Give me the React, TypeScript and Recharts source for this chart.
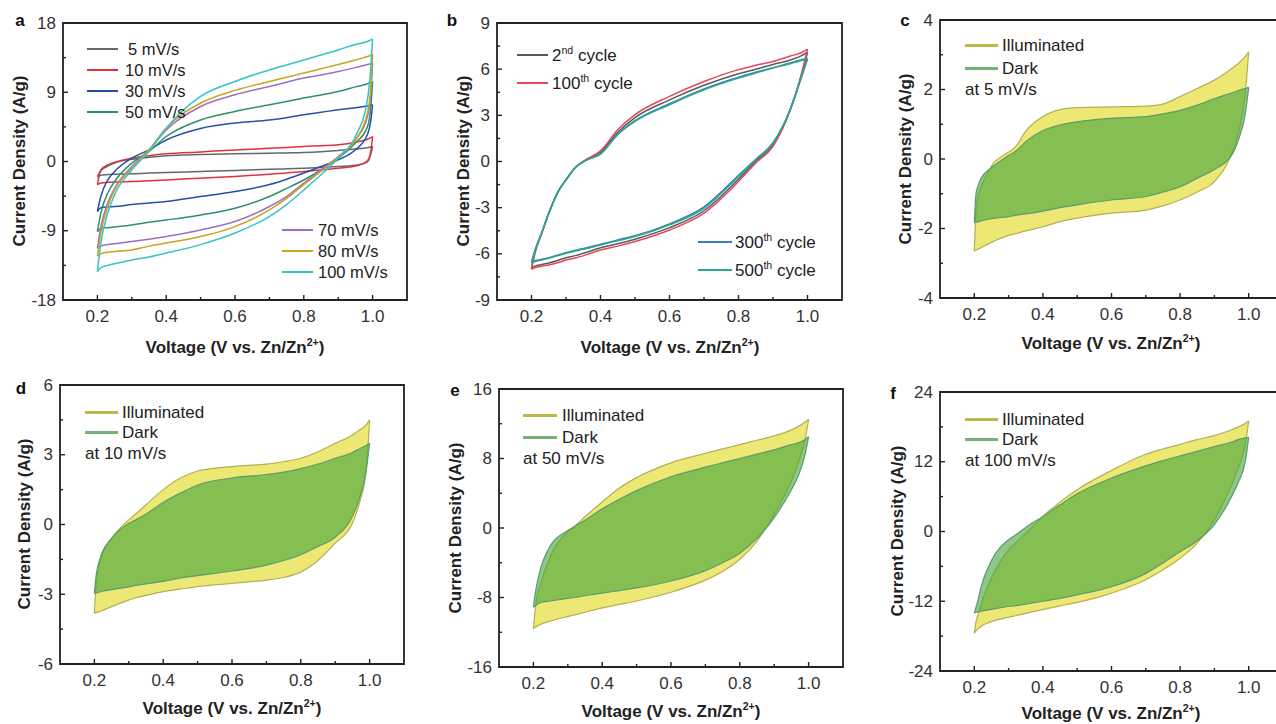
import React from 'react'
import { Area, ComposedChart, ReferenceArea, XAxis, YAxis } from 'recharts'

const FONT = '"Liberation Sans", Arial, Helvetica, sans-serif'
const INK = '#222'

// x axis (shared by all panels)
const xTicks = [0.2, 0.3, 0.4, 0.5, 0.6, 0.7, 0.8, 0.9, 1.0]
const xMajor = [0.2, 0.4, 0.6, 0.8, 1.0]

// panel a: CV at different scan rates (up = anodic, lo = cathodic branch)
const voltA = [0.2, 0.21, 0.23, 0.25, 0.3, 0.35, 0.4, 0.5, 0.6, 0.7, 0.75, 0.8, 0.85, 0.9, 0.95, 0.985, 0.995, 1.0]
const up5 = [-1.95, -1.2, -0.6, -0.2, 0.3, 0.55, 0.74, 0.9, 1.0, 1.08, 1.12, 1.17, 1.28, 1.43, 1.62, 1.8, 1.88, 1.95]
const lo5 = [-1.95, -1.8, -1.7, -1.65, -1.6, -1.5, -1.43, -1.3, -1.17, -1.02, -0.95, -0.87, -0.77, -0.65, -0.5, -0.05, 1.0, 1.95]
const up10 = [-3.0, -1.1, -0.45, -0.1, 0.43, 0.75, 1.0, 1.25, 1.5, 1.72, 1.83, 1.95, 2.05, 2.17, 2.5, 2.9, 3.1, 3.25]
const lo10 = [-3.0, -2.8, -2.7, -2.65, -2.6, -2.5, -2.4, -2.17, -1.95, -1.65, -1.5, -1.3, -1.1, -0.87, -0.6, 0.1, 1.4, 3.25]
const up30 = [-6.5, -4.55, -2.4, -1.3, 0.43, 1.52, 2.8, 4.3, 5.0, 5.4, 5.7, 6.07, 6.4, 6.72, 7.0, 7.2, 7.3, 7.37]
const lo30 = [-6.5, -6.0, -5.9, -5.85, -5.6, -5.4, -5.2, -4.55, -3.9, -3.0, -2.3, -1.5, -0.65, 0.22, 1.52, 3.5, 5.4, 7.37]
const up50 = [-9.1, -6.7, -4.1, -2.6, -0.2, 1.3, 3.25, 5.4, 6.5, 7.37, 7.8, 8.24, 8.65, 9.1, 9.7, 10.1, 10.3, 10.4]
const lo50 = [-9.1, -8.7, -8.6, -8.5, -8.24, -7.9, -7.6, -6.94, -6.07, -4.55, -3.5, -2.4, -1.1, 0.43, 2.4, 4.5, 7.2, 10.4]
const up70 = [-11.3, -8.5, -5.4, -3.5, -0.65, 1.52, 4.1, 7.15, 8.67, 9.76, 10.3, 10.84, 11.25, 11.7, 12.2, 12.6, 12.7, 12.8]
const lo70 = [-11.3, -11.0, -10.8, -10.7, -10.4, -10.1, -9.76, -8.9, -7.8, -5.85, -4.55, -2.8, -1.1, 0.65, 2.8, 5.85, 8.9, 12.8]
const up80 = [-12.3, -9.3, -5.85, -3.7, -0.87, 1.52, 4.34, 7.6, 9.24, 10.4, 10.95, 11.5, 12.05, 12.6, 13.2, 13.65, 13.8, 13.9]
const lo80 = [-12.3, -12.0, -11.8, -11.7, -11.5, -11.0, -10.6, -9.76, -8.46, -6.3, -4.8, -3.0, -1.3, 0.56, 2.8, 6.3, 9.76, 13.9]
const up100 = [-14.3, -10.6, -6.7, -4.3, -1.1, 1.3, 4.34, 8.46, 10.4, 11.9, 12.55, 13.2, 13.85, 14.5, 15.2, 15.6, 15.8, 15.9]
const lo100 = [-14.3, -13.8, -13.5, -13.3, -12.8, -12.4, -11.9, -10.8, -9.3, -7.15, -5.6, -3.7, -1.73, 0.43, 3.25, 8.0, 12.4, 15.9]
const rateLabels = ['5 mV/s', '10 mV/s', '30 mV/s', '50 mV/s', '70 mV/s', '80 mV/s', '100 mV/s']
const rateColors = ['#5f6b6b', '#e0323c', '#2451a4', '#2e8f6e', '#9b6fc4', '#caa41c', '#33c4c8']

// panel b: cycling
const voltB = [0.2, 0.21, 0.23, 0.25, 0.28, 0.3, 0.33, 0.36, 0.4, 0.45, 0.5, 0.6, 0.7, 0.8, 0.85, 0.9, 0.95, 0.98, 1.0]
const up2nd = [-6.9, -5.9, -4.63, -3.36, -1.84, -1.19, -0.33, 0.12, 0.6, 1.9, 2.85, 4.0, 4.95, 5.7, 6.0, 6.3, 6.6, 6.85, 7.1]
const lo2nd = [-6.9, -6.8, -6.7, -6.6, -6.4, -6.25, -6.1, -5.9, -5.6, -5.35, -5.05, -4.3, -3.2, -1.15, 0.0, 1.08, 3.36, 5.4, 7.1]
const up100th = [-7.0, -5.97, -4.66, -3.36, -1.84, -1.19, -0.33, 0.15, 0.7, 2.06, 3.04, 4.23, 5.2, 5.97, 6.25, 6.5, 6.85, 7.05, 7.3]
const lo100th = [-7.0, -6.9, -6.8, -6.72, -6.55, -6.4, -6.25, -6.05, -5.75, -5.5, -5.2, -4.45, -3.36, -1.3, -0.1, 0.98, 3.36, 5.5, 7.3]
const up300th = [-6.55, -5.78, -4.6, -3.36, -1.84, -1.19, -0.33, 0.1, 0.5, 1.78, 2.65, 3.75, 4.72, 5.48, 5.8, 6.1, 6.4, 6.6, 6.7]
const lo300th = [-6.55, -6.45, -6.35, -6.25, -6.05, -5.92, -5.75, -5.6, -5.38, -5.1, -4.82, -4.05, -2.95, -0.9, 0.15, 1.22, 3.4, 5.35, 6.7]
const up500th = [-6.6, -5.8, -4.6, -3.36, -1.84, -1.19, -0.33, 0.1, 0.48, 1.74, 2.6, 3.69, 4.66, 5.42, 5.75, 6.07, 6.35, 6.55, 6.66]
const lo500th = [-6.6, -6.5, -6.4, -6.29, -6.1, -5.97, -5.8, -5.65, -5.42, -5.15, -4.88, -4.12, -3.04, -0.98, 0.1, 1.19, 3.36, 5.3, 6.66]
const cycleNums = ['2', '100', '300', '500']
const cycleSups = ['nd', 'th', 'th', 'th']
const cycleColors = ['#5a5a5a', '#e5475a', '#3b7fc0', '#2aa88c']

// panels c-f: illuminated vs dark
const voltCV = [0.2, 0.205, 0.21, 0.22, 0.25, 0.3, 0.32, 0.35, 0.4, 0.45, 0.5, 0.6, 0.7, 0.75, 0.8, 0.85, 0.9, 0.95, 0.97, 0.99, 1.0]
const cIllumUp = [-2.65, -1.5, -1.1, -0.8, -0.2, 0.2, 0.35, 0.8, 1.22, 1.42, 1.48, 1.5, 1.52, 1.58, 1.8, 2.03, 2.27, 2.6, 2.75, 2.95, 3.08]
const cIllumLo = [-2.65, -2.62, -2.6, -2.55, -2.4, -2.2, -2.15, -2.07, -1.95, -1.8, -1.7, -1.56, -1.47, -1.35, -1.18, -0.95, -0.65, 0.15, 0.74, 1.9, 3.08]
const cDarkUp = [-1.83, -1.0, -0.8, -0.55, -0.25, 0.1, 0.22, 0.5, 0.82, 0.98, 1.07, 1.17, 1.22, 1.3, 1.4, 1.55, 1.74, 1.9, 1.97, 2.03, 2.06]
const cDarkLo = [-1.83, -1.82, -1.81, -1.78, -1.72, -1.66, -1.62, -1.58, -1.5, -1.4, -1.32, -1.18, -1.08, -0.95, -0.8, -0.55, -0.3, 0.1, 0.55, 1.3, 2.06]
const dIllumUp = [-3.82, -2.6, -2.0, -1.4, -0.6, 0.2, 0.45, 0.85, 1.5, 2.0, 2.3, 2.49, 2.6, 2.7, 2.85, 3.13, 3.49, 3.85, 4.06, 4.28, 4.5]
const dIllumLo = [-3.82, -3.79, -3.77, -3.72, -3.53, -3.25, -3.15, -3.05, -2.89, -2.78, -2.67, -2.53, -2.39, -2.28, -2.05, -1.55, -0.8, 0.05, 0.9, 2.34, 4.5]
const dDarkUp = [-2.96, -2.2, -1.8, -1.3, -0.6, 0.05, 0.2, 0.45, 0.95, 1.35, 1.7, 2.0, 2.15, 2.25, 2.4, 2.6, 2.85, 3.1, 3.25, 3.4, 3.5]
const dDarkLo = [-2.96, -2.95, -2.93, -2.88, -2.8, -2.68, -2.62, -2.55, -2.45, -2.3, -2.2, -2.0, -1.75, -1.55, -1.3, -0.95, -0.55, 0.35, 1.1, 2.3, 3.5]
const eIllumUp = [-11.6, -9.5, -8.0, -6.5, -3.2, -0.4, 0.2, 1.3, 3.0, 4.6, 5.8, 7.5, 8.6, 9.1, 9.6, 10.1, 10.6, 11.3, 11.7, 12.2, 12.5]
const eIllumLo = [-11.6, -11.45, -11.3, -11.1, -10.7, -10.2, -10.0, -9.7, -9.2, -8.8, -8.4, -7.4, -6.0, -5.0, -3.6, -1.5, 1.6, 5.4, 7.5, 10.2, 12.5]
const eDarkUp = [-9.1, -7.6, -6.5, -4.8, -2.0, -0.3, 0.2, 0.9, 2.2, 3.3, 4.3, 5.9, 7.0, 7.5, 8.0, 8.5, 9.0, 9.6, 9.8, 10.2, 10.5]
const eDarkLo = [-9.1, -9.0, -8.8, -8.6, -8.4, -8.1, -8.0, -7.8, -7.5, -7.2, -6.9, -6.1, -4.9, -4.0, -2.9, -1.2, 1.2, 4.4, 6.0, 8.5, 10.5]
const fIllumUp = [-17.5, -15.5, -14.5, -12.5, -8.0, -3.2, -2.0, -0.3, 2.6, 5.1, 7.2, 10.5, 13.3, 14.2, 15.0, 15.8, 16.5, 17.5, 18.0, 18.6, 19.0]
const fIllumLo = [-17.5, -17.1, -16.8, -16.3, -15.5, -14.75, -14.5, -14.1, -13.4, -12.8, -12.2, -10.6, -8.3, -6.6, -4.6, -2.0, 2.0, 8.0, 11.0, 15.0, 19.0]
const fDarkUp = [-14.0, -13.0, -12.0, -9.5, -5.0, -1.4, -0.6, 0.7, 2.6, 4.6, 6.5, 9.2, 11.3, 12.2, 13.0, 13.8, 14.6, 15.4, 15.8, 16.1, 16.2]
const fDarkLo = [-14.0, -13.9, -13.85, -13.7, -13.4, -12.9, -12.75, -12.5, -12.0, -11.5, -10.9, -9.5, -7.2, -5.4, -3.5, -1.6, 1.2, 6.0, 8.5, 12.0, 16.2]
const lightLabels = ['Illuminated', 'Dark']

// y ticks per panel
const aYMajor = [-18, -9, 0, 9, 18]
const aYMinor = [-13.5, -4.5, 4.5, 13.5]
const bYMajor = [-9, -6, -3, 0, 3, 6, 9]
const bYMinor = [-7.5, -4.5, -1.5, 1.5, 4.5, 7.5]
const cYMajor = [-4, -2, 0, 2, 4]
const cYMinor = [-3, -1, 1, 3]
const dYMajor = [-6, -3, 0, 3, 6]
const dYMinor = [-4.5, -1.5, 1.5, 4.5]
const eYMajor = [-16, -8, 0, 8, 16]
const eYMinor = [-12, -4, 4, 12]
const fYMajor = [-24, -12, 0, 12, 24]
const fYMinor = [-18, -6, 6, 18]

type Row = Record<string, number | number[]>

const buildRows = (volt: number[], series: Record<string, [number[], number[]]>) =>
  volt.map((v, i) => {
    const row: Row = { v }
    Object.entries(series).forEach(([k, [lo, up]]) => {
      row[k] = [lo[i], up[i]]
    })
    return row
  })

const rowsA = buildRows(voltA, {
  s0: [lo5, up5], s1: [lo10, up10], s2: [lo30, up30], s3: [lo50, up50],
  s4: [lo70, up70], s5: [lo80, up80], s6: [lo100, up100],
})
const rowsB = buildRows(voltB, {
  s0: [lo2nd, up2nd], s1: [lo100th, up100th], s2: [lo300th, up300th], s3: [lo500th, up500th],
})
const rowsC = buildRows(voltCV, { illum: [cIllumLo, cIllumUp], dark: [cDarkLo, cDarkUp] })
const rowsD = buildRows(voltCV, { illum: [dIllumLo, dIllumUp], dark: [dDarkLo, dDarkUp] })
const rowsE = buildRows(voltCV, { illum: [eIllumLo, eIllumUp], dark: [eDarkLo, eDarkUp] })
const rowsF = buildRows(voltCV, { illum: [fIllumLo, fIllumUp], dark: [fDarkLo, fDarkUp] })

type Band = { key: string; stroke: string; fill: string; fillOpacity: number; width: number }

const lineBands = (colors: string[]): Band[] =>
  colors.map((c, i) => ({ key: `s${i}`, stroke: c, fill: 'none', fillOpacity: 0, width: 1.5 }))

const lightBands: Band[] = [
  { key: 'illum', stroke: '#b5af55', fill: '#ede874', fillOpacity: 1, width: 1.2 },
  { key: 'dark', stroke: '#5c9c6c', fill: '#46a63c', fillOpacity: 0.62, width: 1.2 },
]

const near = (list: number[], v: number) => list.some((m) => Math.abs(m - v) < 1e-6)

const XTick = (props: any) => {
  const { x, y, payload } = props
  const major = near(xMajor, payload.value)
  return (
    <g>
      <line x1={x} x2={x} y1={y} y2={y - (major ? 5 : 3)} stroke={INK} strokeWidth={1.4} />
      {major && (
        <text x={x} y={y + 16} textAnchor='middle' dominantBaseline='central' fontSize={17} fill='#333' fontFamily={FONT}>
          {payload.value.toFixed(1)}
        </text>
      )}
    </g>
  )
}

const YTick = (props: any) => {
  const { x, y, payload, majors } = props
  const major = near(majors, payload.value)
  return (
    <g>
      <line x1={x} x2={x + (major ? 5 : 3)} y1={y} y2={y} stroke={INK} strokeWidth={1.4} />
      {major && (
        <text x={x - 7} y={y} textAnchor='end' dominantBaseline='central' fontSize={17} fill='#333' fontFamily={FONT}>
          {payload.value}
        </text>
      )}
    </g>
  )
}

interface PanelProps {
  box: [number, number, number, number]
  yMajor: number[]
  yMinor: number[]
  rows: Row[]
  bands: Band[]
}

const ML = 5
const MT = 20
const MR = 15
const MB = 30
const YW = 50
const XH = 30

const Panel = ({ box, yMajor, yMinor, rows, bands }: PanelProps) => {
  const [x0, y0, x1, y1] = box
  const yDomain = [yMajor[0], yMajor[yMajor.length - 1]]
  const yTicks = [...yMajor, ...yMinor].sort((a, b) => a - b)
  return (
    <div style={{ position: 'absolute', left: x0 - ML - YW, top: y0 - MT }}>
      <ComposedChart
        width={x1 - x0 + ML + YW + MR}
        height={y1 - y0 + MT + MB + XH}
        data={rows}
        margin={{ top: MT, right: MR, left: ML, bottom: MB }}
      >
        <XAxis
          dataKey='v'
          type='number'
          domain={[0.1, 1.1]}
          allowDataOverflow
          ticks={xTicks}
          interval={0}
          height={XH}
          tickSize={0}
          tickMargin={0}
          axisLine={false}
          tickLine={false}
          tick={(p: any) => <XTick {...p} />}
        />
        <YAxis
          type='number'
          domain={yDomain}
          allowDataOverflow
          ticks={yTicks}
          interval={0}
          width={YW}
          tickSize={0}
          tickMargin={0}
          axisLine={false}
          tickLine={false}
          tick={(p: any) => <YTick {...p} majors={yMajor} />}
        />
        {bands.map((b) => (
          <Area
            key={b.key}
            dataKey={b.key}
            type='monotone'
            stroke={b.stroke}
            strokeWidth={b.width}
            fill={b.fill}
            fillOpacity={b.fillOpacity}
            dot={false}
            activeDot={false}
            isAnimationActive={false}
          />
        ))}
        <ReferenceArea
          x1={0.1}
          x2={1.1}
          y1={yDomain[0]}
          y2={yDomain[1]}
          fill='none'
          stroke={INK}
          strokeWidth={1.8}
          ifOverflow='visible'
        />
      </ComposedChart>
    </div>
  )
}

const textBase: React.CSSProperties = {
  position: 'absolute',
  fontFamily: FONT,
  whiteSpace: 'nowrap',
  lineHeight: 1,
  color: '#222',
}

const supStyle: React.CSSProperties = { fontSize: '0.62em', verticalAlign: 'super', lineHeight: 0 }

const Letter = ({ x, y, c }: { x: number; y: number; c: string }) => (
  <div style={{ ...textBase, left: x, top: y, transform: 'translate(-50%,-50%)', fontWeight: 700, fontSize: 17, color: '#111' }}>
    {c}
  </div>
)

const XTitle = ({ x, y }: { x: number; y: number }) => (
  <div style={{ ...textBase, left: x, top: y, transform: 'translate(-50%,-50%)', fontWeight: 700, fontSize: 17 }}>
    Voltage (V vs. Zn/Zn<span style={supStyle}>2+</span>)
  </div>
)

const YTitle = ({ x, y }: { x: number; y: number }) => (
  <div
    style={{
      ...textBase,
      left: x,
      top: y,
      transform: 'translate(-50%,-50%) rotate(-90deg)',
      fontWeight: 700,
      fontSize: 17,
    }}
  >
    Current Density (A/g)
  </div>
)

const Key = ({
  x1, x2, tx, y, color, lw, fs, children,
}: {
  x1: number; x2: number; tx: number; y: number; color: string; lw: number; fs: number; children: React.ReactNode
}) => (
  <>
    <div style={{ position: 'absolute', left: x1, top: y - lw / 2, width: x2 - x1, height: lw, background: color }} />
    <div style={{ ...textBase, left: tx, top: y, transform: 'translateY(-50%)', fontSize: fs }}>{children}</div>
  </>
)

const lightKey = (x1: number, x2: number, tx: number, ys: number[], note: string, noteY: number) => (
  <>
    <Key x1={x1} x2={x2} tx={tx} y={ys[0]} color='#bdb948' lw={3} fs={17}>{lightLabels[0]}</Key>
    <Key x1={x1} x2={x2} tx={tx} y={ys[1]} color='#74b27a' lw={3} fs={17}>{lightLabels[1]}</Key>
    <div style={{ ...textBase, left: x1, top: noteY, transform: 'translateY(-50%)', fontSize: 17 }}>{note}</div>
  </>
)

const App = () => (
  <div
    style={{
      position: 'absolute',
      left: 0,
      top: 0,
      width: 1276,
      height: 724,
      overflow: 'hidden',
      background: '#fff',
      fontFamily: FONT,
    }}
  >
    <Panel box={[63, 23, 407, 300]} yMajor={aYMajor} yMinor={aYMinor} rows={rowsA} bands={lineBands(rateColors)} />
    <Panel box={[497, 23, 842, 300]} yMajor={bYMajor} yMinor={bYMinor} rows={rowsB} bands={lineBands(cycleColors)} />
    <Panel box={[940, 20, 1283, 298]} yMajor={cYMajor} yMinor={cYMinor} rows={rowsC} bands={lightBands} />
    <Panel box={[60, 385, 404, 664]} yMajor={dYMajor} yMinor={dYMinor} rows={rowsD} bands={lightBands} />
    <Panel box={[499, 389, 843, 667]} yMajor={eYMajor} yMinor={eYMinor} rows={rowsE} bands={lightBands} />
    <Panel box={[940, 392, 1283, 671]} yMajor={fYMajor} yMinor={fYMinor} rows={rowsF} bands={lightBands} />

    <Letter x={20} y={20} c='a' />
    <Letter x={452} y={20} c='b' />
    <Letter x={905} y={20} c='c' />
    <Letter x={21} y={388} c='d' />
    <Letter x={455} y={390} c='e' />
    <Letter x={893} y={393} c='f' />

    <XTitle x={235} y={347} />
    <XTitle x={670} y={347} />
    <XTitle x={1111} y={343} />
    <XTitle x={232} y={708} />
    <XTitle x={671} y={711} />
    <XTitle x={1111} y={713} />
    <YTitle x={19} y={161} />
    <YTitle x={463} y={161} />
    <YTitle x={905} y={159} />
    <YTitle x={24} y={524} />
    <YTitle x={455} y={528} />
    <YTitle x={897} y={531} />

    {/* panel a keys */}
    {[0, 1, 2, 3].map((i) => (
      <Key key={i} x1={87} x2={118} tx={i === 0 ? 128 : 125} y={49 + i * 21} color={rateColors[i]} lw={1.8} fs={16.5}>
        {rateLabels[i]}
      </Key>
    ))}
    {[4, 5, 6].map((i, k) => (
      <Key key={i} x1={282} x2={313} tx={318} y={230 + k * 21} color={rateColors[i]} lw={1.8} fs={16.5}>
        {rateLabels[i]}
      </Key>
    ))}

    {/* panel b keys */}
    {[0, 1].map((i) => (
      <Key key={i} x1={517} x2={548} tx={552} y={55 + i * 28} color={cycleColors[i]} lw={1.8} fs={17}>
        {cycleNums[i]}
        <span style={supStyle}>{cycleSups[i]}</span> cycle
      </Key>
    ))}
    {[2, 3].map((i, k) => (
      <Key key={i} x1={698} x2={732} tx={735} y={242 + k * 28} color={cycleColors[i]} lw={1.8} fs={17}>
        {cycleNums[i]}
        <span style={supStyle}>{cycleSups[i]}</span> cycle
      </Key>
    ))}

    {lightKey(965, 998, 1002, [45, 68], 'at 5 mV/s', 89)}
    {lightKey(85, 118, 122, [412, 432], 'at 10 mV/s', 453)}
    {lightKey(523, 557, 562, [415, 437], 'at 50 mV/s', 458)}
    {lightKey(965, 998, 1002, [419, 439], 'at 100 mV/s', 460)}
  </div>
)

export default App
